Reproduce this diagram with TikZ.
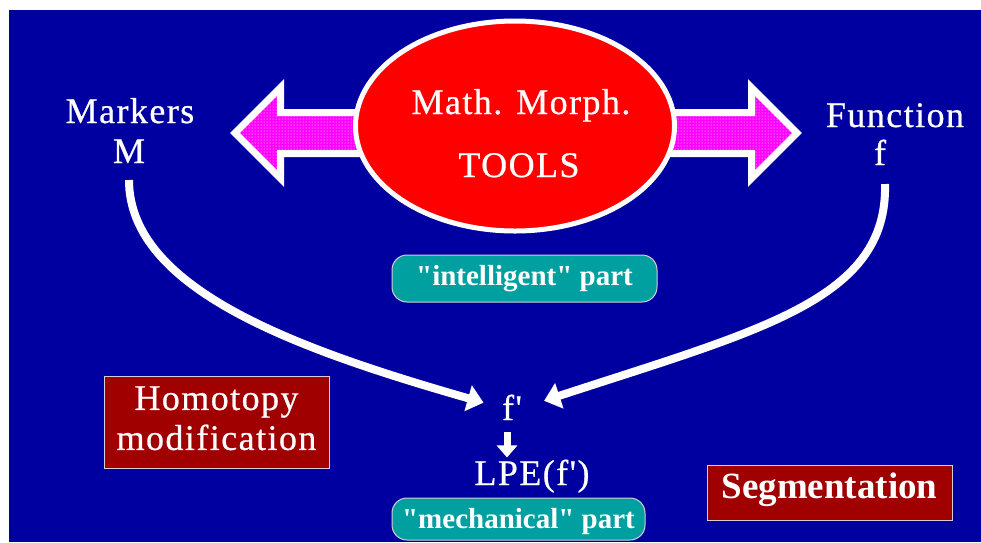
\documentclass[tikz,border=0pt]{standalone}
\usepackage{fontspec}
\setmainfont{Liberation Serif}
\newfontfamily\tsp[LetterSpace=4,FakeBold=0.6]{Liberation Serif}
\newfontfamily\partfont[Ligatures=TeXOff]{Liberation Serif}
\usetikzlibrary{shapes.geometric,arrows.meta,patterns}
\definecolor{bgblue}{RGB}{0,0,160}
\definecolor{tealbox}{RGB}{0,160,160}
\definecolor{darkredbox}{RGB}{160,0,0}
\definecolor{boxline}{RGB}{215,205,215}
\definecolor{pinkfill}{RGB}{255,0,255}
\begin{document}
\begin{tikzpicture}[x=1pt,y=-1pt,
  lbl/.style={text=white, font=\tsp\fontsize{36}{40}\selectfont, inner sep=0pt, anchor=base},
  partbox/.style={fill=tealbox, draw=boxline, line width=1pt, rounded corners=15pt,
    text=white, font=\partfont\bfseries\fontsize{29}{32}\selectfont, inner sep=0pt},
  redbox/.style={fill=darkredbox, draw=boxline, line width=1pt,
    text=white, font=\tsp\fontsize{36}{40}\selectfont, inner sep=0pt},
  curvearrow/.style={white, line width=8pt, -{Triangle[length=16pt,width=26pt]}},
  downarrow/.style={white, line width=7pt, -{Triangle[length=12pt,width=20pt]}},
  arrowborder/.style={draw=white, line width=7pt, line join=miter},
  toolsellipse/.style={ellipse, draw=white, line width=5pt, fill=red,
    minimum width=319pt, minimum height=210pt, inner sep=0pt}
]
\useasboundingbox (0,0) rectangle (981,542);
\fill[white] (0,0) rectangle (981,542);
\fill[bgblue] (9,10) rectangle (981,542);

% double arrow, left part
\fill[pinkfill] (235,133) -- (280.5,87.5) -- (280.5,112.5) -- (365,112.5) -- (365,153.5) -- (280.5,153.5) -- (280.5,178.5) -- cycle;
\fill[pattern=dots, pattern color=white] (235,133) -- (280.5,87.5) -- (280.5,112.5) -- (365,112.5) -- (365,153.5) -- (280.5,153.5) -- (280.5,178.5) -- cycle;
\draw[arrowborder] (235,133) -- (280.5,87.5) -- (280.5,112.5) -- (365,112.5) -- (365,153.5) -- (280.5,153.5) -- (280.5,178.5) -- cycle;
% double arrow, right part
\fill[pinkfill] (797,133) -- (751.5,87.5) -- (751.5,112.5) -- (665,112.5) -- (665,153.5) -- (751.5,153.5) -- (751.5,178.5) -- cycle;
\fill[pattern=dots, pattern color=white] (797,133) -- (751.5,87.5) -- (751.5,112.5) -- (665,112.5) -- (665,153.5) -- (751.5,153.5) -- (751.5,178.5) -- cycle;
\draw[arrowborder] (797,133) -- (751.5,87.5) -- (751.5,112.5) -- (665,112.5) -- (665,153.5) -- (751.5,153.5) -- (751.5,178.5) -- cycle;

% central ellipse
\node[toolsellipse] (tools) at (515,126) {};
\node[lbl] (math) at (521,114) {Math.  Morph.};
\node[lbl] (toolsword) at (519,177) {TOOLS};

% side labels
\node[lbl] (markers) at (130,123) {Markers};
\node[lbl] (mm) at (129,163) {M};
\node[lbl] (function) at (895,127) {Function};
\node[lbl] (ff) at (880,165) {f};

% intelligent part
\node[partbox, minimum width=265pt, text height=30pt, text depth=17pt] (intel) at (524.5,278.5) {"intelligent" part};

% f' and LPE
\node[lbl, inner sep=2pt] (fp) at (512,420) {f'};
\node[lbl, inner sep=2pt] (lpe) at (532,485) {LPE(f')};

\coordinate (mstart) at (129,180);
\coordinate (fstart) at (885,184);
\draw[curvearrow, shorten >=17pt] (mstart) .. controls (129,290) and (300,350) .. (fp.west);
\draw[curvearrow, shorten >=21pt] (fstart) .. controls (888,300) and (760,330) .. (fp.east);
\draw[downarrow, shorten <=10pt] ([xshift=-5pt]fp.south) -- ([xshift=-5pt]fp.south |- lpe.north);

% mechanical part
\node[partbox, minimum width=253pt, text height=30pt, text depth=12pt] (mech) at (518.5,519) {"mechanical" part};

% red boxes
\node[redbox, minimum width=225pt, minimum height=92pt, align=center] (homotopy) at (216.5,422) {Homotopy\\modification\rule[-7.8pt]{0pt}{0pt}};
\node[redbox, font=\bfseries\fontsize{37}{40}\selectfont, minimum width=245pt, text height=33pt, text depth=22pt] (segm) at (829.5,492.5) {Segmentation};
\end{tikzpicture}
\end{document}
